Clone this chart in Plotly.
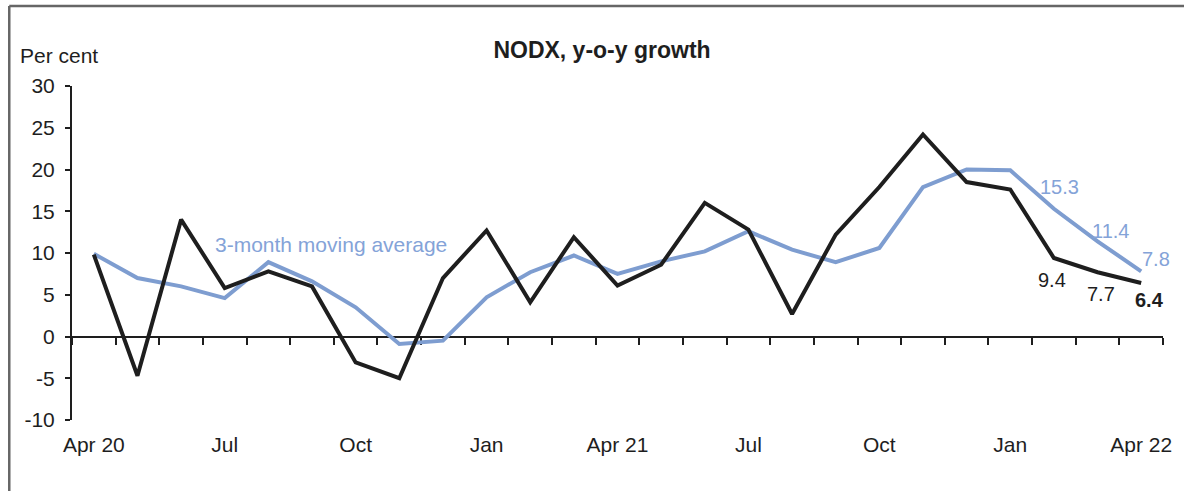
import plotly.graph_objects as go

# ---- data ----
months = ["Apr 20", "May 20", "Jun 20", "Jul 20", "Aug 20", "Sep 20", "Oct 20", "Nov 20", "Dec 20",
          "Jan 21", "Feb 21", "Mar 21", "Apr 21", "May 21", "Jun 21", "Jul 21", "Aug 21", "Sep 21",
          "Oct 21", "Nov 21", "Dec 21", "Jan 22", "Feb 22", "Mar 22", "Apr 22"]
nodx_yoy = [9.8, -4.7, 14.0, 5.8, 7.8, 6.0, -3.1, -5.0, 7.0,
            12.7, 4.1, 11.9, 6.1, 8.6, 16.0, 12.8, 2.7, 12.2,
            17.9, 24.2, 18.5, 17.6, 9.4, 7.7, 6.4]
nodx_3mma = [9.9, 7.0, 6.0, 4.6, 8.9, 6.6, 3.5, -0.9, -0.5,
             4.7, 7.7, 9.7, 7.5, 9.0, 10.2, 12.6, 10.4, 8.9,
             10.6, 17.9, 20.0, 19.9, 15.3, 11.4, 7.8]
tick_idx = [0, 3, 6, 9, 12, 15, 18, 21, 24]
tick_text = ["Apr 20", "Jul", "Oct", "Jan", "Apr 21", "Jul", "Oct", "Jan", "Apr 22"]
y_ticks = [-10, -5, 0, 5, 10, 15, 20, 25, 30]
y_tick_text = ["-10", "-5", "0", "5", "10", "15", "20", "25", "30"]
labelled_idx = [22, 23, 24]

FONT = "Liberation Sans, Arial, sans-serif"
BLACK = "#1e1e1e"
BLUE = "#7e9dd0"
BLUE_TXT = "#84a3d8"

x = list(range(len(months)))

fig = go.Figure()
fig.add_trace(go.Scatter(x=x, y=nodx_3mma, mode="lines", line=dict(color=BLUE, width=4),
                         hoverinfo="skip", showlegend=False))
fig.add_trace(go.Scatter(x=x, y=nodx_yoy, mode="lines", line=dict(color=BLACK, width=4),
                         hoverinfo="skip", showlegend=False))
# invisible trace so the zero-line axis (x2) is drawn
fig.add_trace(go.Scatter(x=x, y=nodx_yoy, xaxis="x2", mode="lines",
                         line=dict(color="rgba(0,0,0,0)", width=0),
                         hoverinfo="skip", showlegend=False))

annotations = []
# blue value labels
for i, (dx, dy) in zip(labelled_idx, [(6, 22), (13, 10), (15, 12)]):
    annotations.append(dict(x=i, y=nodx_3mma[i], xref="x", yref="y", text=f"{nodx_3mma[i]:.1f}",
                            showarrow=False, xshift=dx, yshift=dy,
                            font=dict(family=FONT, size=20, color=BLUE_TXT)))
# black value labels
for k, (i, (dx, dy)) in enumerate(zip(labelled_idx, [(-2, -22), (3, -22), (8, -17)])):
    txt = f"{nodx_yoy[i]:.1f}"
    if k == len(labelled_idx) - 1:
        txt = f"<b>{txt}</b>"
    annotations.append(dict(x=i, y=nodx_yoy[i], xref="x", yref="y", text=txt,
                            showarrow=False, xshift=dx, yshift=dy,
                            font=dict(family=FONT, size=20, color=BLACK)))
# series label
annotations.append(dict(x=5.43, y=11.0, xref="x", yref="y", text="3-month moving average",
                        showarrow=False, font=dict(family=FONT, size=21, color=BLUE_TXT)))
# unit label
annotations.append(dict(x=-0.0493, y=1.0928, xref="paper", yref="paper", text="Per cent",
                        showarrow=False, xanchor="left", yanchor="middle",
                        font=dict(family=FONT, size=21, color=BLACK)))

frame = dict(color="#666666", width=2.5)
W, H = 1184, 491
fig.update_layout(
    width=W, height=H,
    margin=dict(l=72, r=17, t=86, b=71),
    paper_bgcolor="white", plot_bgcolor="white",
    title=dict(text="<b>NODX, y-o-y growth</b>", x=602 / W, xanchor="center",
               y=1 - 50 / H, yanchor="middle", font=dict(family=FONT, size=23, color=BLACK)),
    annotations=annotations,
    xaxis=dict(range=[-0.5, 24.5], tickmode="array", tickvals=tick_idx, ticktext=tick_text,
               showline=False, showgrid=False, zeroline=False, ticks="outside", ticklen=6,
               tickcolor="rgba(0,0,0,0)", tickfont=dict(family=FONT, size=21, color=BLACK)),
    xaxis2=dict(range=[-0.5, 24.5], overlaying="x", anchor="free", position=0.25, side="bottom",
                tickmode="array", tickvals=[v - 0.5 for v in range(len(months) + 1)],
                showticklabels=False, ticks="outside", ticklen=7, tickwidth=2, tickcolor=BLACK,
                showline=True, linewidth=2, linecolor=BLACK, showgrid=False, zeroline=False,
                layer="below traces"),
    yaxis=dict(range=[-10, 30], tickmode="array", tickvals=y_ticks, ticktext=y_tick_text,
               showline=True, linewidth=2,
               linecolor=BLACK, ticks="outside", ticklen=5, tickwidth=2, tickcolor=BLACK,
               showgrid=False, zeroline=False, ticklabelstandoff=6,
               tickfont=dict(family=FONT, size=21, color=BLACK)),
    shapes=[
        dict(type="line", xref="paper", yref="paper", x0=-0.0575, x1=-0.0575, y0=-0.3, y1=1.2395,
             line=frame, layer="below"),
        dict(type="line", xref="paper", yref="paper", x0=-0.0575, x1=1.1, y0=1.2395, y1=1.2395,
             line=frame, layer="below"),
    ],
)

fig.write_html("out.html", config={"displayModeBar": False, "staticPlot": True},
               post_script="document.body.style.margin='0';document.body.style.overflow='hidden';")
